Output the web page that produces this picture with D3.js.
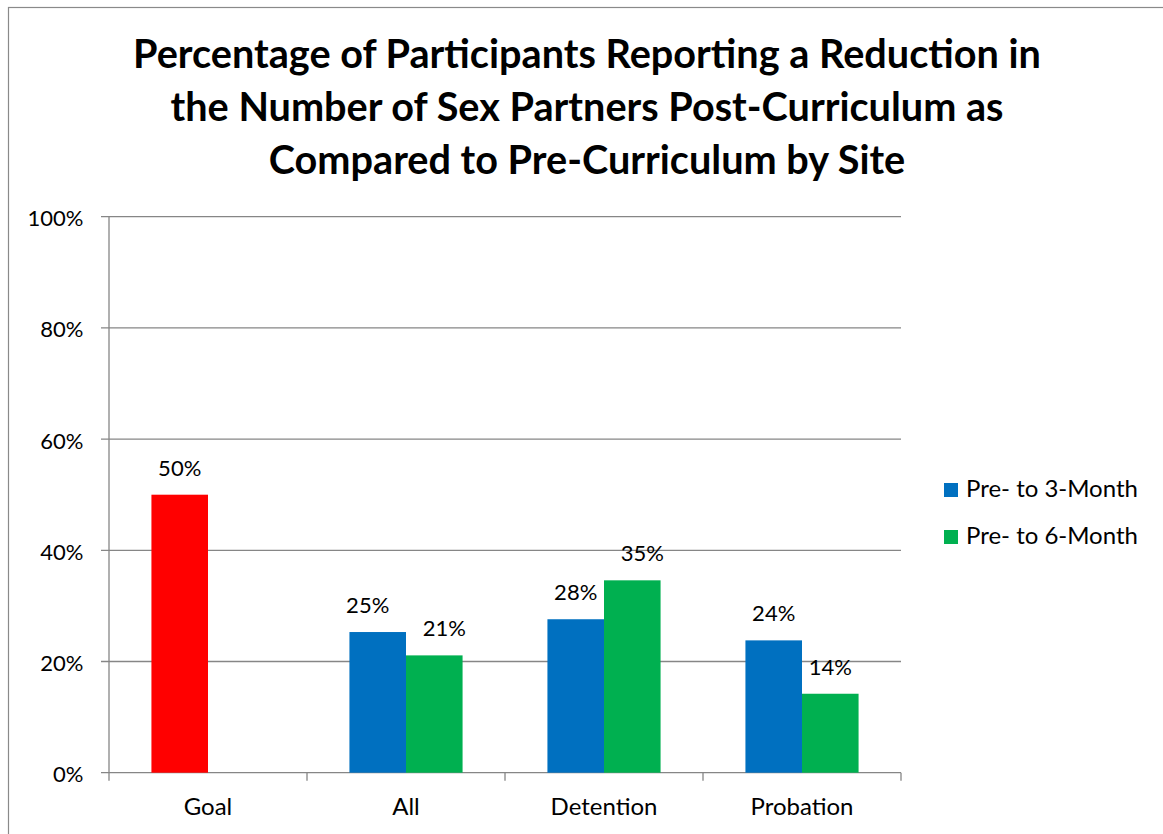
<!DOCTYPE html>
<html>
<head>
<meta charset="utf-8">
<script src="https://cdn.jsdelivr.net/npm/d3@7"></script>
<style>
  html, body { margin: 0; padding: 0; background: #fff; }
  svg { display: block; }
  text { font-family: Lato, "Liberation Sans", sans-serif; fill: #000; }
</style>
</head>
<body>
<svg id="chart" width="1163" height="834"></svg>
<script>
// ---- data ----
const titleLines = [
  "Percentage of Participants Reporting a Reduction in",
  "the Number of Sex Partners Post-Curriculum as",
  "Compared to Pre-Curriculum by Site"
];
const categories = ["Goal", "All", "Detention", "Probation"];
const seriesNames = ["Pre- to 3-Month", "Pre- to 6-Month"];
const threeMonth = [50, 25.3, 27.6, 23.8];
const sixMonth = [null, 21.1, 34.6, 14.2];
const yTicks = [0, 20, 40, 60, 80, 100];

// ---- styling ----
const seriesColors = ["#0070C0", "#00B050"];
const goalColor = "#FF0000";
const gridColor = "#868686";
// small horizontal shifts applied to a few value labels so neighbours don't collide
const labelShift = { "All|0": -10, "All|1": 10, "Detention|1": 10 };

const svg = d3.select("#chart");
const W = 1163, H = 834;
const plot = { left: 109, right: 901, top: 216.7, bottom: 772.7 };

// outer chart border
svg.append("rect")
  .attr("x", 8.5).attr("y", 7.5)
  .attr("width", W + 100).attr("height", H + 100)
  .attr("fill", "none").attr("stroke", "#8a8a8a").attr("stroke-width", 1.2);

// helper: font size that makes a string reach a target width
function fitSize(str, weight, target) {
  const t = svg.append("text").attr("font-size", 100).attr("font-weight", weight).text(str);
  const w = t.node().getComputedTextLength();
  t.remove();
  return 100 * target / w;
}

// ---- title ----
const titleSize = fitSize(titleLines[0], "bold", 908);
const titleBase = [68, 121, 174];
svg.append("g").selectAll("text").data(titleLines).join("text")
  .attr("x", 587).attr("y", (d, i) => titleBase[i])
  .attr("text-anchor", "middle")
  .attr("font-weight", "bold")
  .attr("font-size", titleSize)
  .text(d => d);

// ---- scales ----
const x0 = d3.scaleBand().domain(categories).range([plot.left, plot.right]).paddingInner(0).paddingOuter(0);
const x1 = d3.scaleBand().domain([0, 1]).range([0, x0.bandwidth()]).paddingInner(0).paddingOuter(0.75);
const y = d3.scaleLinear().domain([0, 100]).range([plot.bottom, plot.top]);

const numSize = fitSize("100%", "normal", 56);
const wordSize = fitSize(seriesNames[0], "normal", 172);

// ---- gridlines ----
svg.append("g").selectAll("line").data(yTicks).join("line")
  .attr("x1", plot.left - 8).attr("x2", plot.right)
  .attr("y1", d => y(d)).attr("y2", d => y(d))
  .attr("stroke", gridColor).attr("stroke-width", 1.3);

// y axis line
svg.append("line")
  .attr("x1", plot.left).attr("x2", plot.left)
  .attr("y1", plot.top).attr("y2", plot.bottom)
  .attr("stroke", gridColor).attr("stroke-width", 1.3);

// category tick marks on the x axis
const catEdges = categories.map(c => x0(c)).concat([x0(categories[categories.length - 1]) + x0.bandwidth()]);
svg.append("g").selectAll("line").data(catEdges).join("line")
  .attr("x1", d => d).attr("x2", d => d)
  .attr("y1", plot.bottom).attr("y2", plot.bottom + 8)
  .attr("stroke", gridColor).attr("stroke-width", 1.3);

// y tick labels
svg.append("g").selectAll("text").data(yTicks).join("text")
  .attr("x", 83.5).attr("y", d => y(d) + 9.5)
  .attr("text-anchor", "end")
  .attr("font-size", numSize)
  .text(d => d + "%");

// category labels
svg.append("g").selectAll("text").data(categories).join("text")
  .attr("x", d => x0(d) + x0.bandwidth() / 2)
  .attr("y", 815)
  .attr("text-anchor", "middle")
  .attr("font-size", wordSize)
  .text(d => d);

// ---- bars ----
const seriesValues = [threeMonth, sixMonth];
const bars = [];
categories.forEach((c, ci) => {
  seriesValues.forEach((vals, si) => {
    const v = vals[ci];
    if (v == null) return;
    const color = (c === "Goal") ? goalColor : seriesColors[si];
    bars.push({ cat: c, s: si, v, color });
  });
});

svg.append("g").selectAll("rect").data(bars).join("rect")
  .attr("x", d => x0(d.cat) + x1(d.s))
  .attr("width", x1.bandwidth())
  .attr("y", d => y(d.v))
  .attr("height", d => y(0) - y(d.v))
  .attr("fill", d => d.color);

// value labels
const fmt = d3.format(".0f");
svg.append("g").selectAll("text").data(bars).join("text")
  .attr("x", d => x0(d.cat) + x1(d.s) + x1.bandwidth() / 2 + (labelShift[d.cat + "|" + d.s] || 0))
  .attr("y", d => y(d.v) - 19)
  .attr("text-anchor", "middle")
  .attr("font-size", numSize)
  .text(d => fmt(d.v) + "%");

// ---- legend ----
const legend = svg.append("g").selectAll("g").data(seriesNames).join("g")
  .attr("transform", (d, i) => `translate(944, ${483 + i * 47})`);
legend.append("rect")
  .attr("width", 14).attr("height", 14)
  .attr("fill", (d, i) => seriesColors[i]);
legend.append("text")
  .attr("x", 22).attr("y", 14)
  .attr("font-size", wordSize)
  .text(d => d);
</script>
</body>
</html>
